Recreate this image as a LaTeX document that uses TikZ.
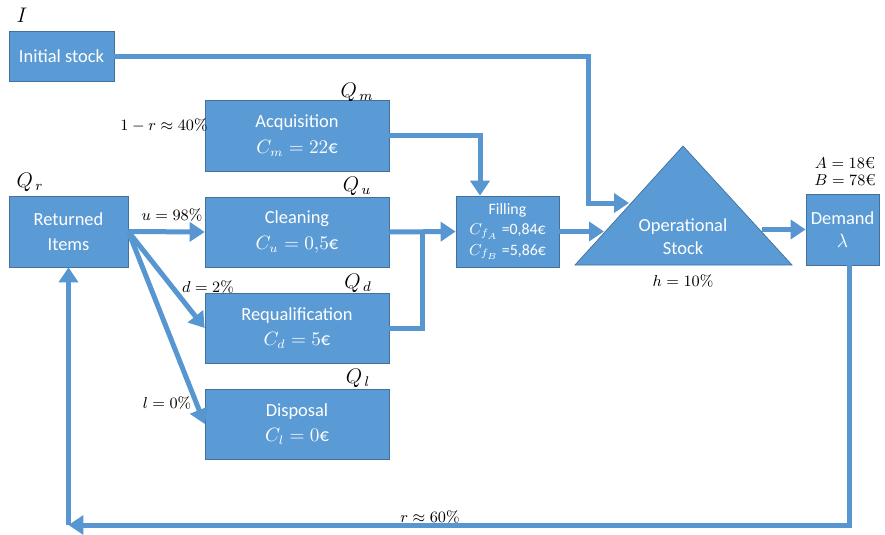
\documentclass[tikz,border=0pt]{standalone}
\usepackage{fontspec}
\newfontfamily\boxfont{Carlito}
\usetikzlibrary{arrows.meta,calc}
\definecolor{boxblue}{RGB}{91,155,213}
\definecolor{boxedge}{RGB}{65,113,156}
\definecolor{flowblue}{RGB}{88,150,210}
\tikzset{
  box/.style={draw=boxedge,line width=0.4pt,fill=boxblue,text=white,align=center,inner sep=0pt,
    font=\boxfont\fontsize{10.5}{14.5}\selectfont},
  flow/.style={draw=flowblue,line width=0.1cm,-{Triangle[width=0.38cm,length=0.3cm]}},
  pipe/.style={draw=flowblue,line width=0.1cm},
  lbl/.style={inner sep=0pt,font=\fontsize{9}{11}\selectfont},
  qlbl/.style={inner sep=0pt,font=\fontsize{11.5}{13}\selectfont}
}
\begin{document}
\begin{tikzpicture}[x=0.02cm,y=-0.02cm]
  \useasboundingbox (0,0) rectangle (885,534);
  % boxes
  \node[box,minimum width=2.1cm,minimum height=1cm] (init) at (61.5,56) {Initial stock};
  \node[box,minimum width=2.38cm,minimum height=1.42cm] (ret) at (68.5,231.5) {Returned\\Items};
  \node[box,minimum width=3.68cm,minimum height=1.42cm] (acq) at (297,135.5) {Acquisition\\$C_m = 22\mbox{€}$};
  \node[box,minimum width=3.68cm,minimum height=1.4cm] (clean) at (297,232) {Cleaning\\$C_u = 0{,}5\mbox{€}$};
  \node[box,minimum width=3.68cm,minimum height=1.4cm] (requal) at (297,328) {Requalification\\$C_d = 5\mbox{€}$};
  \node[box,minimum width=3.68cm,minimum height=1.4cm] (disp) at (297,424) {Disposal\\$C_l = 0\mbox{€}$};
  \node[box,minimum width=2.06cm,minimum height=1.42cm,font=\boxfont\fontsize{9}{11.5}\selectfont] (fill) at (507.5,231.5)
    {Filling\\$C_{f_A}$ =0,84€\\$C_{f_B}$ =5,86€};
  \node[box,minimum width=1.46cm,minimum height=1.42cm,font=\boxfont\fontsize{10.5}{13.5}\selectfont] (demand) at (842.5,229.5) {Demand\\$\lambda$};
  % operational stock
  \filldraw[fill=boxblue,draw=boxedge,line width=0.4pt] (575,265) -- (683,146) -- (792,265) -- cycle;
  \node[text=white,align=center,font=\boxfont\fontsize{10.5}{13}\selectfont] (opstock) at (683,237) {Operational\\Stock};
  \coordinate (stockIn) at (629,203);
  \coordinate (stockFill) at (604,231.5);
  \coordinate (stockOut) at (762,229.5);
  % labels
  \node[qlbl] (qi) at (22,15) {$I$};
  \node[qlbl] (qr) at (30,182) {$Q_{\,r}$};
  \node[qlbl] (qm) at (357,92) {$Q_{\,m}$};
  \node[qlbl] (qu) at (357,186) {$Q_{\,u}$};
  \node[qlbl] (qd) at (358,283) {$Q_{\,d}$};
  \node[qlbl] (ql) at (358,378) {$Q_{\,l}$};
  \node[lbl] (rm) at (164,125) {$1-r\approx 40\%$};
  \node[lbl] (ru) at (172,215) {$u=98\%$};
  \node[lbl] (rd) at (208,287) {$d=2\%$};
  \node[lbl] (rl) at (167,403) {$l=0\%$};
  \node[lbl] (rh) at (683,281) {$h=10\%$};
  \node[lbl] (pa) at (845,163) {$A=18\mbox{€}$};
  \node[lbl] (pb) at (845,180) {$B=78\mbox{€}$};
  \node[lbl] (rr) at (430,517) {$r\approx 60\%$};
  % flows
  \coordinate (bendI) at (588,56);
  \draw[flow] (init.east) -- (bendI) |- (stockIn);
  \draw[flow] (acq.east) -| ([xshift=-0.55cm]fill.north);
  \draw[flow] (ret.east) -- (clean.west);
  \draw[flow] (ret.east) -- (requal.west);
  \draw[flow] (ret.east) -- (disp.west);
  \coordinate (merge) at ($(clean.east)!0.5!(fill.west)$);
  \draw[flow] (clean.east) -- (fill.west);
  \draw[pipe] (requal.east) -| (merge);
  \draw[flow] (fill.east) -- (stockFill);
  \draw[flow] (stockOut) -- (demand.west);
  \coordinate (loopL) at (68.5,525);
  \draw[flow] ([xshift=0.14cm]demand.south) |- (loopL);
  \draw[flow] (loopL) -- (ret.south);
\end{tikzpicture}
\end{document}
